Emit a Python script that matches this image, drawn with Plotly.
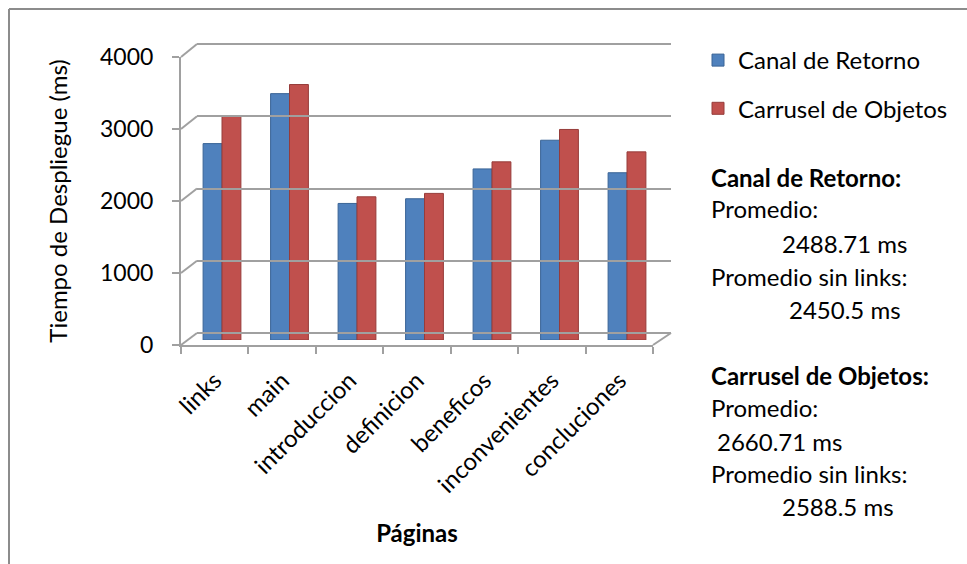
import plotly.graph_objects as go

# ---- data ----
categories = ["links", "main", "introduccion", "definicion", "beneficos", "inconvenientes", "concluciones"]
canal_retorno = [2718, 3410, 1890, 1955, 2368, 2765, 2315]
carrusel_objetos = [3094, 3536, 1982, 2029, 2466, 2914, 2604]
y_ticks = [0, 1000, 2000, 3000, 4000]

W, H = 967, 564
FONT = "Lato"
GRID = "#A0A0A0"
BLUE = "#4F81BD"
RED = "#C0504D"
FS = 24


def px(x):
    return x / W


def py(y):
    return (H - y) / H


def fmt(v):
    return f"{v:.2f}".rstrip("0").rstrip(".")


def mean(a):
    return sum(a) / len(a)


fig = go.Figure()

# bars on their own (middle-depth) axes
fig.add_trace(go.Bar(x=categories, y=canal_retorno, name="Canal de Retorno",
                     marker=dict(color=BLUE, line=dict(color="#3A6496", width=1)),
                     xaxis="x2", yaxis="y2", legendgroup="a"))
fig.add_trace(go.Bar(x=categories, y=carrusel_objetos, name="Carrusel de Objetos",
                     marker=dict(color=RED, line=dict(color="#963C3A", width=1)),
                     xaxis="x2", yaxis="y2", legendgroup="b"))

# invisible trace to activate front axes
fig.add_trace(go.Scatter(x=categories, y=canal_retorno, xaxis="x", yaxis="y", mode="markers",
                         marker=dict(opacity=0), showlegend=False, hoverinfo="skip"))
# invisible trace to activate back-wall axes
fig.add_trace(go.Scatter(x=[0, 1], y=[0, 0], xaxis="x3", yaxis="y3", mode="markers",
                         marker=dict(opacity=0), showlegend=False, hoverinfo="skip"))

front_x = [px(181), px(653)]
front_y = [py(345), py(57)]
back_x = [px(197), px(671)]
back_y = [py(333), py(44)]
bar_x = [px(188.25), px(660.75)]
bar_y = [py(340), py(51)]
ext = 0.01
span_b = back_y[1] - back_y[0]

fig.update_layout(
    width=W, height=H, autosize=False,
    margin=dict(l=0, r=0, t=0, b=0, pad=0, autoexpand=False),
    paper_bgcolor="white", plot_bgcolor="rgba(0,0,0,0)",
    font=dict(family=FONT, size=FS, color="black"),
    barmode="group", bargap=0.44, bargroupgap=0,
    xaxis=dict(domain=front_x, type="category", categoryorder="array", categoryarray=categories,
               range=[-0.5, len(categories) - 0.5], tickangle=-45, showline=True, linecolor=GRID,
               linewidth=2, ticks="outside", tickson="boundaries", ticklen=7, tickcolor=GRID,
               tickwidth=2, showgrid=False, anchor="y", zeroline=False, automargin=False,
               ticklabelstandoff=10,
               title=dict(text="<b>Páginas</b>", font=dict(size=FS), standoff=28),
               tickfont=dict(size=FS)),
    yaxis=dict(domain=front_y, range=[0, 4000], tickvals=y_ticks, showline=True, linecolor=GRID,
               linewidth=2, ticks="outside", ticklen=7, tickcolor=GRID, tickwidth=2,
               showgrid=False, zeroline=False, anchor="x", automargin=False,
               ticklabelstandoff=14,
               title=dict(text="Tiempo de Despliegue (ms)", font=dict(size=FS), standoff=26),
               tickfont=dict(size=FS - 1)),
    xaxis2=dict(domain=bar_x, type="category", categoryorder="array", categoryarray=categories,
                range=[-0.5, len(categories) - 0.5], visible=False, anchor="y2"),
    yaxis2=dict(domain=bar_y, range=[0, 4000], visible=False, anchor="x2"),
    xaxis3=dict(domain=back_x, range=[0, 1], visible=False, anchor="y3"),
    yaxis3=dict(domain=[back_y[0] - ext, back_y[1] + ext],
                range=[-4000 * ext / span_b, 4000 + 4000 * ext / span_b],
                tickvals=y_ticks, showgrid=True, gridcolor=GRID, automargin=False,
                gridwidth=2, showticklabels=False, zeroline=False, showline=False, anchor="x3"),
    legend=dict(x=px(698), y=py(38), xanchor="left", yanchor="top", tracegroupgap=14,
                font=dict(size=FS), bgcolor="rgba(0,0,0,0)", itemwidth=30),
)

shapes = []
# perspective connectors from front axis ticks to back-wall gridlines
for v in y_ticks:
    yf = front_y[0] + v / 4000 * (front_y[1] - front_y[0])
    yb = back_y[0] + v / 4000 * (back_y[1] - back_y[0])
    shapes.append(dict(type="line", xref="paper", yref="paper", x0=front_x[0], y0=yf,
                       x1=back_x[0], y1=yb, line=dict(color=GRID, width=2)))
# right floor edge
shapes.append(dict(type="line", xref="paper", yref="paper", x0=front_x[1], y0=front_y[0],
                   x1=back_x[1], y1=back_y[0], line=dict(color=GRID, width=2)))
# chart frame (left & top)
shapes.append(dict(type="line", xref="paper", yref="paper", x0=px(9), y0=0, x1=px(9), y1=py(9),
                   line=dict(color="#8C8C8C", width=2)))
shapes.append(dict(type="line", xref="paper", yref="paper", x0=px(9), y0=py(9), x1=1, y1=py(9),
                   line=dict(color="#8C8C8C", width=2)))
fig.update_layout(shapes=shapes)

# statistics text
lines = [
    ("<b>Canal de Retorno:</b>", 709, 177),
    ("Promedio:", 709, 209),
    (f"{fmt(mean(canal_retorno))} ms", 780, 243),
    ("Promedio sin links:", 709, 276),
    (f"{fmt(mean(canal_retorno[1:]))} ms", 787, 309),
    ("<b>Carrusel de Objetos:</b>", 709, 375),
    ("Promedio:", 709, 408),
    (f"{fmt(mean(carrusel_objetos))} ms", 715, 441),
    ("Promedio sin links:", 709, 473),
    (f"{fmt(mean(carrusel_objetos[1:]))} ms", 780, 506),
]
for txt, x, y in lines:
    fig.add_annotation(text=txt, x=px(x), y=py(y), xref="paper", yref="paper",
                       xanchor="left", yanchor="middle", showarrow=False,
                       font=dict(size=FS, family=FONT))

fig.write_html("out.html")
